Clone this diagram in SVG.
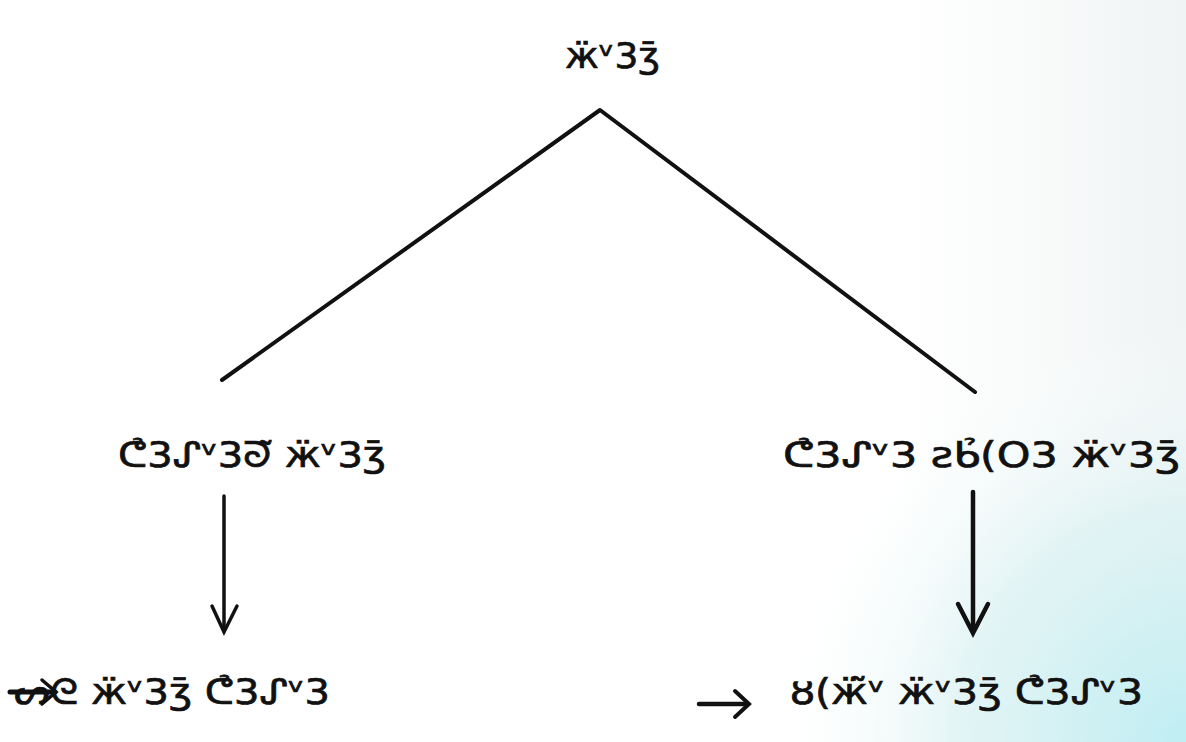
<svg xmlns="http://www.w3.org/2000/svg" width="1186" height="742" viewBox="0 0 1186 742">
  <defs>
    <style>
      .lbl { font-family: "DejaVu Sans", "Noto Sans", sans-serif; font-size: 35px; fill: #111; stroke: #111; stroke-width: 0.7; }
      .edge { stroke: #111; stroke-width: 4; fill: none; stroke-linecap: round; stroke-linejoin: round; }
      .arr { stroke: #111; stroke-width: 3.5; fill: none; stroke-linecap: round; stroke-linejoin: miter; }
    </style>
    <radialGradient id="tint" cx="1186" cy="742" r="420" gradientUnits="userSpaceOnUse">
      <stop offset="0" stop-color="#bfeef3" stop-opacity="1"/>
      <stop offset="0.55" stop-color="#d9f1f2" stop-opacity="0.7"/>
      <stop offset="1" stop-color="#ffffff" stop-opacity="0"/>
    </radialGradient>
    <linearGradient id="haze" x1="0" y1="0" x2="1" y2="0">
      <stop offset="0" stop-color="#eef2f2" stop-opacity="0"/>
      <stop offset="1" stop-color="#e9eff0" stop-opacity="0.7"/>
    </linearGradient>
  </defs>
  <rect x="0" y="0" width="1186" height="742" fill="#ffffff"/>
  <rect x="900" y="0" width="286" height="742" fill="url(#haze)"/>
  <rect x="700" y="300" width="486" height="442" fill="url(#tint)"/>

  <g id="connectors">
    <polyline class="edge" points="222,380 600,110 975,392"/>
    <line class="arr" x1="224" y1="496" x2="224" y2="631"/>
    <polyline class="arr" points="212,606 224,632 237,606"/>
    <line class="arr" x1="973" y1="492" x2="973" y2="631" style="stroke-width:4.5"/>
    <polyline class="arr" points="958,604 973,633 988,604" style="stroke-width:4.5"/>
    <line class="arr" x1="10" y1="692" x2="55" y2="692" style="stroke-width:5"/>
    <polyline class="arr" points="42,680 56,692 42,704"/>
    <line class="arr" x1="699" y1="704" x2="747" y2="704" style="stroke-width:4.5"/>
    <polyline class="arr" points="735,691 749,704 735,717" style="stroke-width:4"/>
  </g>

  <g id="node-root">
    <text class="lbl" x="565" y="68" textLength="95" lengthAdjust="spacingAndGlyphs">ӝᵛ3ʒ̄</text>
  </g>
  <g id="node-left">
    <text class="lbl" x="118" y="467" textLength="268" lengthAdjust="spacingAndGlyphs">ᕦ̉3ᔑᵛ3ᘐ̃ ӝᵛ3ʒ̄</text>
  </g>
  <g id="node-right">
    <text class="lbl" x="783" y="467" textLength="397" lengthAdjust="spacingAndGlyphs">ᕦ̉3ᔑᵛ3 ƨᑲ̉(O3 ӝᵛ3ʒ̄</text>
  </g>
  <g id="node-bottom-left">
    <text class="lbl" x="14" y="704" textLength="316" lengthAdjust="spacingAndGlyphs">ᔕᘓ ӝᵛ3ʒ̄ ᕦ̉3ᔑᵛ3</text>
  </g>
  <g id="node-bottom-right">
    <text class="lbl" x="790" y="704" textLength="353" lengthAdjust="spacingAndGlyphs">ȣ(ӝ̃ᵛ ӝᵛ3ʒ̄ ᕦ̉3ᔑᵛ3</text>
  </g>
</svg>
